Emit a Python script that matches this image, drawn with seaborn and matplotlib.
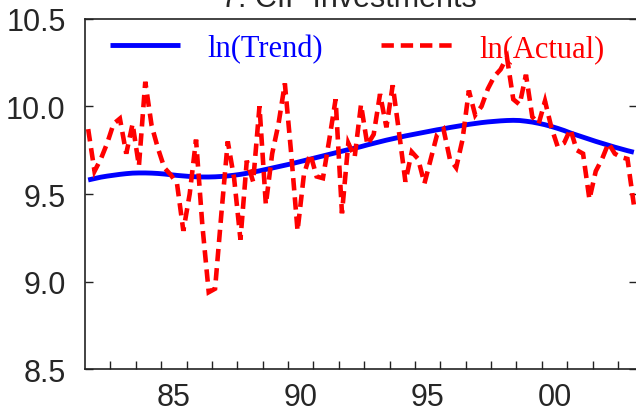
import matplotlib
matplotlib.use("Agg")
import matplotlib.pyplot as plt
import seaborn as sns
import numpy as np
import pandas as pd
from matplotlib.ticker import FixedLocator, NullFormatter, FixedFormatter

# ---------------- data ----------------
title = "7. CIF Investments"
start_year = 1982
n_quarters = 87  # 1982Q1 .. 2003Q3

trend = [
    9.580, 9.588, 9.596, 9.602,
    9.607, 9.612, 9.616, 9.619,
    9.620, 9.620, 9.619, 9.617,
    9.614, 9.610, 9.606, 9.603,
    9.600, 9.598, 9.597, 9.597,
    9.598, 9.600, 9.603, 9.607,
    9.612, 9.618, 9.625, 9.632,
    9.640, 9.648, 9.656, 9.664,
    9.672, 9.681, 9.690, 9.699,
    9.708, 9.717, 9.726, 9.735,
    9.744, 9.753, 9.761, 9.770,
    9.780, 9.789, 9.798, 9.807,
    9.815, 9.823, 9.831, 9.838,
    9.845, 9.852, 9.859, 9.866,
    9.872, 9.879, 9.885, 9.891,
    9.897, 9.902, 9.907, 9.911,
    9.914, 9.917, 9.919, 9.920,
    9.919, 9.915, 9.910, 9.903,
    9.895, 9.885, 9.874, 9.862,
    9.848, 9.836, 9.824, 9.812,
    9.800, 9.789, 9.778, 9.767,
    9.757, 9.747, 9.738,
]

actual = [
    9.87, 9.63, 9.70, 9.79,
    9.90, 9.93, 9.73, 9.90,
    9.66, 10.14, 9.89, 9.76,
    9.65, 9.61, 9.56, 9.29,
    9.50, 9.81, 9.32, 8.94,
    8.96, 9.39, 9.80, 9.59,
    9.24, 9.69, 9.57, 10.00,
    9.44, 9.73, 9.90, 10.13,
    9.73, 9.29, 9.61, 9.73,
    9.60, 9.59, 9.81, 10.04,
    9.39, 9.79, 9.71, 10.01,
    9.78, 9.84, 10.07, 9.88,
    10.12, 9.85, 9.57, 9.74,
    9.70, 9.56, 9.70, 9.84,
    9.87, 9.70, 9.65, 9.81,
    10.09, 9.95, 10.00, 10.10,
    10.17, 10.21, 10.28, 10.04,
    10.01, 10.18, 9.94, 9.90,
    10.03, 9.88, 9.77, 9.79,
    9.87, 9.75, 9.73, 9.47,
    9.63, 9.70, 9.79, 9.73,
    9.71, 9.70, 9.44,
]

y_ticks = [8.5, 9.0, 9.5, 10.0, 10.5]
y_ticklabels = ["8.5", "9.0", "9.5", "10.0", "10.5"]
x_label_years = [1985, 1990, 1995, 2000]
x_ticklabels = ["85", "90", "95", "00"]
series_labels = ["ln(Trend)", "ln(Actual)"]

# ---------------- build table ----------------
quarters = pd.period_range(f"{start_year}Q1", periods=n_quarters, freq="Q")
t = np.array([q.year + (q.quarter - 0.5) / 4.0 for q in quarters])
df = pd.DataFrame({"t": t, "trend": trend, "actual": actual})

# ---------------- plot ----------------
sns.set_style("white")
plt.rcParams["font.family"] = ["Liberation Sans", "DejaVu Sans"]

W, H = 636, 414
fig = plt.figure(figsize=(W / 100, H / 100), dpi=100, facecolor="white")
ax = fig.add_axes([85 / W, 1 - 370.4 / H, 552 / W, 350.8 / H])

sns.lineplot(data=df, x="t", y="trend", ax=ax, color="#0000ff", lw=3.5,
             label=series_labels[0])
sns.lineplot(data=df, x="t", y="actual", ax=ax, color="#ff0000", lw=3.3,
             label=series_labels[1])
l_trend, l_act = ax.lines[0], ax.lines[1]
l_trend.set_solid_capstyle("butt")
l_act.set_dashes((2.7, 1.5))
l_act.set_dash_joinstyle("miter")
l_act.set_dash_capstyle("butt")
l_trend.set_zorder(2)
l_act.set_zorder(3)

ax.set_xlim(start_year, start_year + n_quarters / 4.0)
ax.set_ylim(y_ticks[0], y_ticks[-1])
ax.set_xlabel("")
ax.set_ylabel("")

# y ticks
ax.yaxis.set_major_locator(FixedLocator(y_ticks))
ax.yaxis.set_major_formatter(FixedFormatter(y_ticklabels))
ax.tick_params(axis="y", which="major", direction="in", length=6, width=1,
               color="#222222", labelsize=22, pad=14, left=True, right=True)

# x ticks: year boundaries unlabeled, labels mid-year
year_bounds = list(range(start_year + 1, start_year + n_quarters // 4 + 1))
ax.xaxis.set_major_locator(FixedLocator(year_bounds))
ax.xaxis.set_major_formatter(NullFormatter())
ax.xaxis.set_minor_locator(FixedLocator([y + 0.5 for y in x_label_years]))
ax.xaxis.set_minor_formatter(FixedFormatter(x_ticklabels))
ax.tick_params(axis="x", which="major", direction="in", length=6, width=1,
               color="#222222", bottom=True, top=False)
ax.tick_params(axis="x", which="minor", length=0, labelsize=22, pad=9)

for s in ["left", "bottom", "top", "right"]:
    ax.spines[s].set_visible(True)
    ax.spines[s].set_color("#222222")
    ax.spines[s].set_linewidth(1.2)

leg = ax.legend(handles=[l_trend, l_act], labels=series_labels,
                loc="center left", bbox_to_anchor=(0.045, 0.915),
                ncol=2, frameon=False, borderpad=0, borderaxespad=0,
                handlelength=2.3, handletextpad=0.9, columnspacing=1.9,
                prop={"family": "Liberation Serif", "size": 22},
                labelcolor="linecolor")

fig.text(348.5 / W, 1 - 7 / H, title, ha="center", va="baseline", fontsize=22)

fig.savefig("out.png", dpi=100, facecolor="white")
